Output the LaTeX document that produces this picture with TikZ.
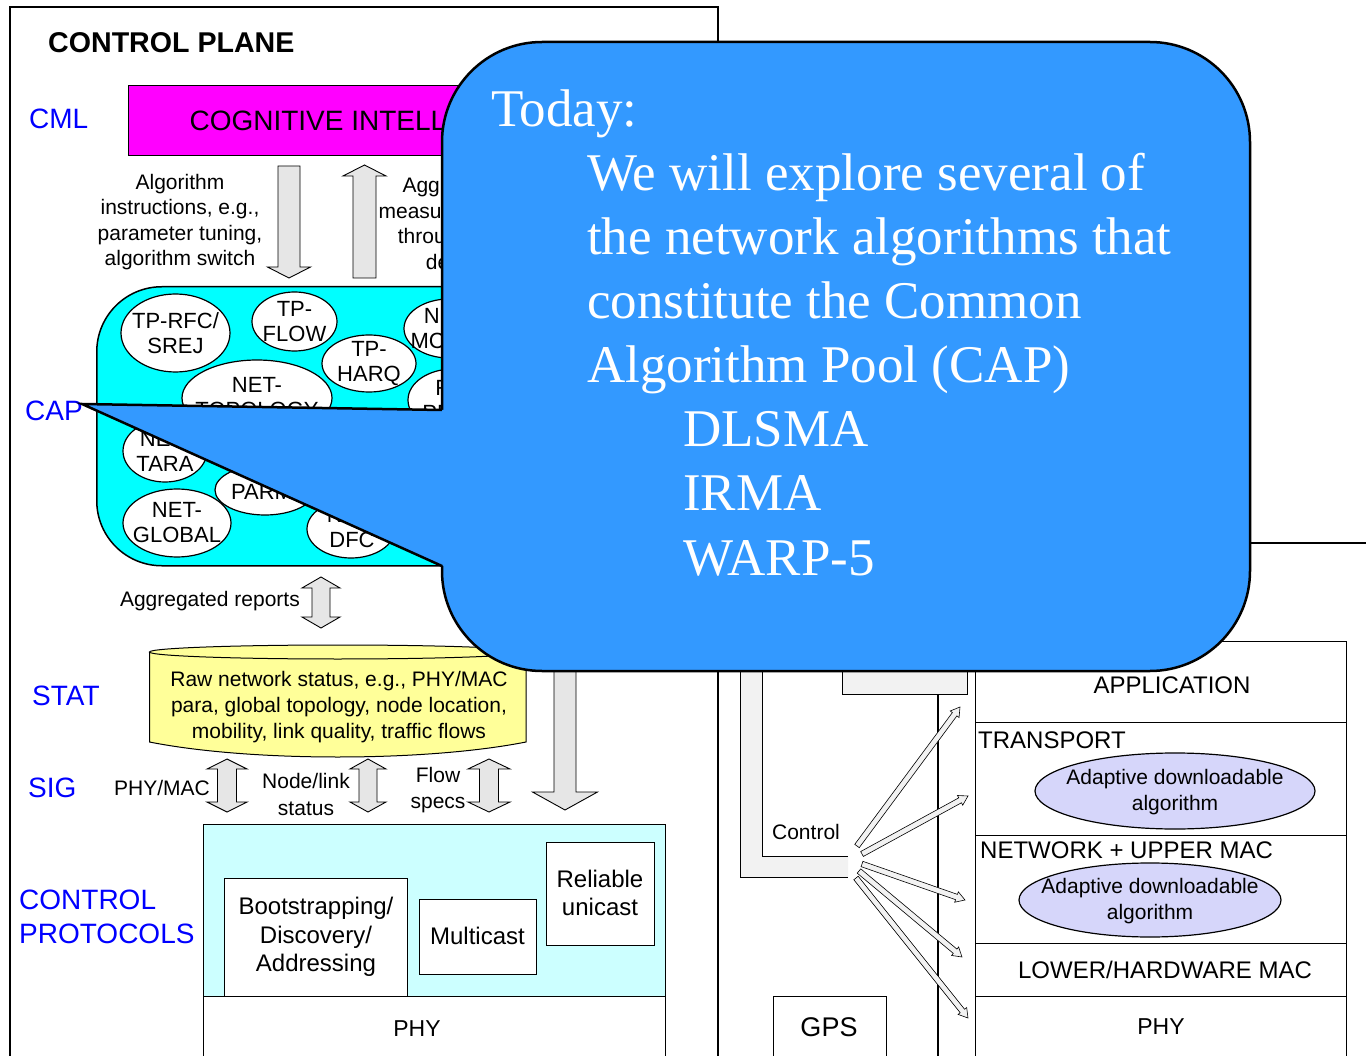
\documentclass[tikz,border=0pt]{standalone}
\usepackage{fontspec}
\setmainfont{Liberation Sans}
\newfontfamily\calloutfont{Liberation Serif}
\usetikzlibrary{shapes.geometric,calc}

\definecolor{cmlmag}{RGB}{255,0,255}
\definecolor{capcyan}{RGB}{0,255,255}
\definecolor{protocyan}{RGB}{204,255,255}
\definecolor{statyellow}{RGB}{255,255,153}
\definecolor{arrowgray}{RGB}{230,230,230}
\definecolor{bandgray}{RGB}{242,242,242}
\definecolor{adaptlav}{RGB}{214,214,250}
\definecolor{calloutblue}{RGB}{51,153,255}
\definecolor{layerblue}{RGB}{0,0,255}

% vertical block arrow: x, shaft end y, head base y, tip y, shaft half width, head half width
\newcommand\singleblock[6]{%
  \draw[blockarrow] ({#1-#5},#2) -- ({#1+#5},#2) -- ({#1+#5},#3) -- ({#1+#6},#3)
    -- (#1,#4) -- ({#1-#6},#3) -- ({#1-#5},#3) -- cycle;}
% vertical two-headed block arrow: x, top tip y, bottom tip y, shaft half, head half, head length
\newcommand\doubleblock[6]{%
  \draw[blockarrow] (#1,#2) -- ({#1+#5},{#2+#6}) -- ({#1+#4},{#2+#6}) -- ({#1+#4},{#3-#6})
    -- ({#1+#5},{#3-#6}) -- (#1,#3) -- ({#1-#5},{#3-#6}) -- ({#1-#4},{#3-#6})
    -- ({#1-#4},{#2+#6}) -- ({#1-#5},{#2+#6}) -- cycle;}
% thin hollow control arrow between two named coordinates
\newcommand\fanarrow[2]{%
  \coordinate (fh) at ($(#2)!9pt!(#1)$);
  \draw[fanarrowstyle] ($(#1)!2.8pt!90:(#2)$) -- ($(fh)!2.8pt!90:(#2)$) -- ($(fh)!5.5pt!90:(#2)$)
    -- (#2) -- ($(fh)!5.5pt!-90:(#2)$) -- ($(fh)!2.8pt!-90:(#2)$) -- ($(#1)!2.8pt!-90:(#2)$) -- cycle;}

\begin{document}
\begin{tikzpicture}[x=1pt,y=-1pt,
  box/.style={draw, line width=1.2pt},
  rbox/.style={draw, line width=1.2pt, anchor=north west, inner sep=0pt},
  blockarrow/.style={draw, line width=0.9pt, fill=arrowgray},
  fanarrowstyle/.style={draw, line width=0.6pt, fill=bandgray},
  layerlbl/.style={text=layerblue, font=\fontsize{28}{34}\selectfont, anchor=west, inner sep=0pt},
  lbl/.style={font=\fontsize{21}{25.5}\selectfont, align=center, inner sep=0pt},
  alg/.style={ellipse, draw, line width=1.2pt, fill=white, inner sep=0pt},
  algtxt/.style={font=\fontsize{22}{25}\selectfont, align=center, inner sep=0pt},
  boxtxt/.style={font=\fontsize{24}{28.5}\selectfont, align=center, inner sep=0pt},
  stacktxt/.style={font=\fontsize{24}{28}\selectfont, inner sep=0pt},
  adapt/.style={ellipse, draw, line width=1.2pt, fill=adaptlav, inner sep=0pt},
  calloutline/.style={text=white, font=\calloutfont\fontsize{53}{64}\selectfont, anchor=base west, inner sep=0pt}
]
\useasboundingbox (0,0) rectangle (1366,1056);
\fill[white] (0,0) rectangle (1366,1056);
\clip (0,0) rectangle (1366,1056);

% ---------- control plane frame ----------
\draw[box] (10,1070) -- (10,7) -- (718,7) -- (718,1070);
\draw[box] (719,543) -- (1366,543);
\node[font=\bfseries\fontsize{28.6}{34}\selectfont, anchor=west, inner sep=0pt] (cptitle) at (48,43) {CONTROL PLANE};

% ---------- cognitive layer ----------
\node[layerlbl] (cml) at (29,119) {CML};
\node[rbox, fill=cmlmag, minimum width=486pt, minimum height=70pt,
      font=\fontsize{28}{34}\selectfont] (ci) at (128,85) {COGNITIVE INTELLIGENCE};

\node[lbl] (algtxt) at (180,222) {Algorithm\\instructions, e.g.,\\parameter tuning,\\algorithm switch};
\node[lbl] (aggtxt) at (451,226) {Aggregate\\measurements,\\throughput,\\delay};
\singleblock{289}{166}{267}{278}{11}{21.5}
\singleblock{364.5}{278}{176}{165}{11.5}{21.5}

% ---------- common algorithm pool ----------
\node[layerlbl] (cap) at (25,411) {CAP};
\node[draw, line width=1.5pt, fill=capcyan, rounded corners=65pt, anchor=north west,
      minimum width=594pt, minimum height=279pt, inner sep=0pt] (capbox) at (96,286) {};

\node[alg, minimum width=109pt, minimum height=78pt] (rfc) at (175.5,333) {};
\node[algtxt] (rfct) at (rfc) {TP-RFC/\\SREJ};
\node[alg, minimum width=85pt, minimum height=59pt] (flow) at (294.5,321.5) {};
\node[algtxt] (flowt) at (flow) {TP-\\FLOW};
\node[alg, minimum width=150pt, minimum height=76pt] (topo) at (257,398) {};
\node[algtxt] (topot) at (topo) {NET-\\TOPOLOGY};
\node[alg, minimum width=94pt, minimum height=57pt] (harq) at (369,363.5) {};
\node[algtxt] (harqt) at (harq) {TP-\\HARQ};
\node[alg, minimum width=90pt, minimum height=59pt] (mcast) at (449,328.5) {};
\node[algtxt] (mcastt) at (mcast) {NET-\\MCAST};
\node[alg, minimum width=90pt, minimum height=62pt] (rl) at (453,400) {};
\node[algtxt] (rlt) at (rl) {RL-\\PRED};
\node[alg, minimum width=84pt, minimum height=62pt] (tara) at (165,451) {};
\node[algtxt] (tarat) at (tara) {NET-\\TARA};
\node[alg, minimum width=100pt, minimum height=50pt] (parm) at (265,490) {};
\node[algtxt] (parmt) at (262,492) {PARM};
\node[alg, minimum width=108pt, minimum height=68pt] (global) at (177,523) {};
\node[algtxt] (globalt) at (global) {NET-\\GLOBAL};
\node[alg, minimum width=88pt, minimum height=58pt] (dfc) at (351,529) {};
\node[algtxt] (dfct) at (352,528) {NET-\\DFC};

% ---------- statistics ----------
\node[lbl, anchor=east] (aggrep) at (300,601) {Aggregated reports};
\doubleblock{321}{577}{628}{9}{19}{11}

\node[layerlbl] (stat) at (32,696) {STAT};
\fill[statyellow] (149.5,652) -- (149.5,742) .. controls (250,762) and (425,762) .. (526,742)
  -- (526,652) -- cycle;
\fill[statyellow] (337.75,652) ellipse [x radius=188.25, y radius=7];
\draw[line width=1pt] (149.5,652) -- (149.5,742) .. controls (250,762) and (425,762) .. (526,742) -- (526,652);
\draw[line width=1pt] (337.75,652) ellipse [x radius=188.25, y radius=7];
\node[lbl, font=\fontsize{21}{26}\selectfont] (stattxt) at (339,707)
  {Raw network status, e.g., PHY/MAC\\para, global topology, node location,\\mobility, link quality, traffic flows};

% ---------- signalling ----------
\node[layerlbl] (sig) at (28,788) {SIG};
\node[lbl, anchor=east] (phymac) at (210,788) {PHY/MAC};
\doubleblock{227}{759}{812}{9.5}{20}{10}
\node[lbl, font=\fontsize{21}{27}\selectfont] (nodelink) at (306,794) {Node/link\\status};
\doubleblock{368}{759}{812}{9}{18}{10}
\node[lbl, font=\fontsize{21}{26}\selectfont] (flowspecs) at (438,790) {Flow\\specs};
\doubleblock{489}{759}{812}{9.5}{21}{10}
\singleblock{565}{560}{792}{810}{11}{32.5}

% ---------- control protocols ----------
\node[layerlbl, align=left, font=\fontsize{28}{34}\selectfont] (cprot) at (19,917) {CONTROL\\PROTOCOLS};
\node[rbox, fill=protocyan, minimum width=462pt, minimum height=172pt] (ctrlbox) at (203,824) {};
\node[rbox, fill=white, minimum width=462pt, minimum height=80pt] (phyl) at (203,996) {};
\node[inner sep=0pt, font=\fontsize{23}{27}\selectfont] (phylt) at (417,1029) {PHY};
\node[rbox, fill=white, minimum width=183pt, minimum height=118pt] (boot) at (224,878) {};
\node[boxtxt] (boott) at (316,937) {Bootstrapping/\\Discovery/\\Addressing};
\node[rbox, fill=white, minimum width=117pt, minimum height=75pt] (mcbox) at (419,899) {};
\node[boxtxt] (mcboxt) at (477.5,936) {Multicast};
\node[rbox, fill=white, minimum width=108pt, minimum height=103pt] (reli) at (546,842) {};
\node[boxtxt, font=\fontsize{24}{28}\selectfont] (relit) at (600,893) {Reliable\\unicast};

% ---------- node protocol stack ----------
\fill[bandgray] (740,600) -- (740,877) -- (848,877) -- (848,856) -- (762,856) -- (762,600) -- cycle;
\draw[line width=0.9pt] (740,600) -- (740,877) -- (848,877);
\draw[line width=0.9pt] (762,600) -- (762,856) -- (848,856);
\node[font=\fontsize{21}{25}\selectfont, inner sep=0pt] (ctrl) at (806,832) {Control};
\node[draw, line width=0.9pt, fill=bandgray, anchor=north west, inner sep=0pt,
      minimum width=125pt, minimum height=94pt] (topbox) at (842,600) {};
\draw[box] (938,694) -- (938,1070);

\node[rbox, minimum width=371pt, minimum height=81pt] (app) at (975,641) {};
\node[rbox, minimum width=371pt, minimum height=113pt] (trans) at (975,722) {};
\node[rbox, minimum width=371pt, minimum height=108pt] (netw) at (975,835) {};
\node[rbox, minimum width=371pt, minimum height=53pt] (lowmac) at (975,943) {};
\node[rbox, minimum width=371pt, minimum height=80pt] (sphy) at (975,996) {};
\node[stacktxt] (appt) at (1172,685) {APPLICATION};
\node[stacktxt, anchor=west] (transt) at (978,740) {TRANSPORT};
\node[stacktxt, anchor=west] (netwt) at (980,850) {NETWORK + UPPER MAC};
\node[stacktxt] (lowmact) at (1165,970) {LOWER/HARDWARE MAC};
\node[stacktxt, font=\fontsize{23}{27}\selectfont] (sphyt) at (1161,1027) {PHY};
\node[adapt, minimum width=280pt, minimum height=76pt] (ad1) at (1175,791) {};
\node[lbl, font=\fontsize{21}{26}\selectfont] (ad1t) at (1175,792) {Adaptive downloadable\\algorithm};
\node[adapt, minimum width=262pt, minimum height=74pt] (ad2) at (1150,900) {};
\node[lbl, font=\fontsize{21}{26}\selectfont] (ad2t) at (1150,901) {Adaptive downloadable\\algorithm};

\node[rbox, minimum width=113pt, minimum height=80pt] (gps) at (773,996) {};
\node[inner sep=0pt, font=\fontsize{27}{32}\selectfont] (gpst) at (829,1027) {GPS};

\coordinate (f1s) at (857,846); \coordinate (f1e) at (960,707);
\coordinate (f2s) at (862,854); \coordinate (f2e) at (968,796);
\coordinate (f3s) at (862,864); \coordinate (f3e) at (965,900);
\coordinate (f4s) at (859,871); \coordinate (f4e) at (962,957);
\coordinate (f5s) at (856,878); \coordinate (f5e) at (968,1018);
\fanarrow{f1s}{f1e}
\fanarrow{f2s}{f2e}
\fanarrow{f3s}{f3e}
\fanarrow{f4s}{f4e}
\fanarrow{f5s}{f5e}

% ---------- callout ----------
\draw[fill=calloutblue, line width=2.5pt, rounded corners=100pt] (442,42) rectangle (1250,671);
\fill[calloutblue] (444,410) -- (82,404) -- (444,566) -- cycle;
\draw[line width=2.5pt, line join=miter] (442,410) -- (82,404) -- (442,566);

\node[calloutline] (l1) at (491,127) {Today:};
\node[calloutline] (l2) at (587,191) {We will explore several of};
\node[calloutline] (l3) at (587,255) {the network algorithms that};
\node[calloutline] (l4) at (587,319) {constitute the Common};
\node[calloutline] (l5) at (587,383) {Algorithm Pool (CAP)};
\node[calloutline] (l6) at (683,447) {DLSMA};
\node[calloutline] (l7) at (683,511) {IRMA};
\node[calloutline] (l8) at (683,575) {WARP-5};
\end{tikzpicture}
\end{document}
